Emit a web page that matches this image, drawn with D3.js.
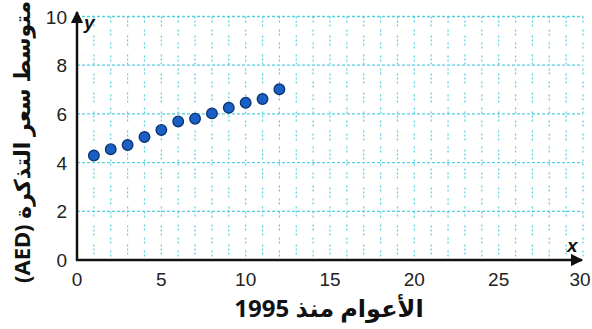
<!DOCTYPE html>
<html>
<head>
<meta charset="utf-8">
<script src="https://cdn.jsdelivr.net/npm/d3@7"></script>
<style>
  body { margin: 0; background: #fff; }
  svg { display: block; }
</style>
</head>
<body>
<svg id="chart" width="592" height="329"></svg>
<script>
// years since 1995 and average ticket price (AED)
let years = [1, 2, 3, 4, 5, 6, 7, 8, 9, 10, 11, 12]
let prices = [4.29, 4.55, 4.72, 5.05, 5.34, 5.69, 5.8, 6.02, 6.25, 6.46, 6.61, 7.01]
let xTicks = [0, 5, 10, 15, 20, 25, 30]
let yTicks = [0, 2, 4, 6, 8, 10]
let xTitle = "الأعوام منذ 1995"
let yTitle = "متوسط سعر التذكرة (AED)"

let svg = d3.select("#chart")
let x = d3.scaleLinear().domain([0, 30]).range([77, 583])
let y = d3.scaleLinear().domain([0, 10]).range([260, 16.5])

let gridColor = "#55d0df"

// vertical grid, one per year
svg.append("g")
    .selectAll("line")
    .data(d3.range(1, 31))
    .enter()
    .append("line")
    .attr("x1", d => x(d)).attr("x2", d => x(d))
    .attr("y1", y(10)).attr("y2", y(0))
    .attr("stroke", gridColor)
    .attr("stroke-width", 1.2)
    .attr("stroke-dasharray", (d, i) => i % 2 ? "2,2,2,7" : "2,2,2,2,2,9")

// horizontal grid every 2
svg.append("g")
    .selectAll("line")
    .data(yTicks.filter(d => d > 0))
    .enter()
    .append("line")
    .attr("x1", x(0)).attr("x2", x(30))
    .attr("y1", d => y(d)).attr("y2", d => y(d))
    .attr("stroke", gridColor)
    .attr("stroke-width", 1.3)
    .attr("stroke-dasharray", "3,2")

// axes with arrows
svg.append("defs").append("marker")
    .attr("id", "arrow")
    .attr("viewBox", "0 0 10 10")
    .attr("refX", 9).attr("refY", 5)
    .attr("markerWidth", 5).attr("markerHeight", 5)
    .attr("orient", "auto")
    .append("path")
    .attr("d", "M0,0 L10,5 L0,10 Z")
    .attr("fill", "#111")

svg.append("line")
    .attr("x1", x(0) - 1).attr("x2", 582)
    .attr("y1", y(0)).attr("y2", y(0))
    .attr("stroke", "#111").attr("stroke-width", 2.5)
    .attr("marker-end", "url(#arrow)")

svg.append("line")
    .attr("x1", x(0)).attr("x2", x(0))
    .attr("y1", y(0) + 1).attr("y2", 12)
    .attr("stroke", "#111").attr("stroke-width", 2.5)
    .attr("marker-end", "url(#arrow)")

svg.append("text")
    .attr("x", 84).attr("y", 29)
    .attr("font-family", "Liberation Sans, Arial, sans-serif")
    .attr("font-size", 19).attr("font-weight", "bold").attr("font-style", "italic")
    .attr("fill", "#111")
    .text("y")

svg.append("text")
    .attr("x", 567).attr("y", 252)
    .attr("font-family", "Liberation Sans, Arial, sans-serif")
    .attr("font-size", 19).attr("font-weight", "bold").attr("font-style", "italic")
    .attr("fill", "#111")
    .text("x")

// tick labels
svg.append("g")
    .selectAll("text")
    .data(xTicks)
    .enter()
    .append("text")
    .attr("x", d => d === 30 ? x(d) - 3 : x(d))
    .attr("y", 286)
    .attr("text-anchor", "middle")
    .attr("font-family", "Liberation Sans, Arial, sans-serif")
    .attr("font-size", 19)
    .attr("fill", "#222")
    .text(d => d)

svg.append("g")
    .selectAll("text")
    .data(yTicks)
    .enter()
    .append("text")
    .attr("x", 67)
    .attr("y", d => y(d) + 7)
    .attr("text-anchor", "end")
    .attr("font-family", "Liberation Sans, Arial, sans-serif")
    .attr("font-size", 19)
    .attr("fill", "#222")
    .text(d => d)

// data points
svg.append("g")
    .selectAll("circle")
    .data(years)
    .enter()
    .append("circle")
    .attr("cx", d => x(d))
    .attr("cy", (d, i) => y(prices[i]))
    .attr("r", 5.3)
    .attr("fill", "#1a5fc4")
    .attr("stroke", "#0b3472")
    .attr("stroke-width", 1.3)

// titles
svg.append("text")
    .attr("x", 329).attr("y", 317)
    .attr("text-anchor", "middle")
    .attr("direction", "rtl")
    .attr("font-family", "Noto Sans, DejaVu Sans, sans-serif")
    .attr("font-size", 24).attr("font-weight", "bold")
    .attr("fill", "#111")
    .text(xTitle)

svg.append("text")
    .attr("transform", "translate(30,142) rotate(-90)")
    .attr("text-anchor", "middle")
    .attr("direction", "rtl")
    .attr("font-family", "Noto Sans, DejaVu Sans, sans-serif")
    .attr("font-size", 22).attr("font-weight", "bold")
    .attr("fill", "#111")
    .text(yTitle)
</script>
</body>
</html>
